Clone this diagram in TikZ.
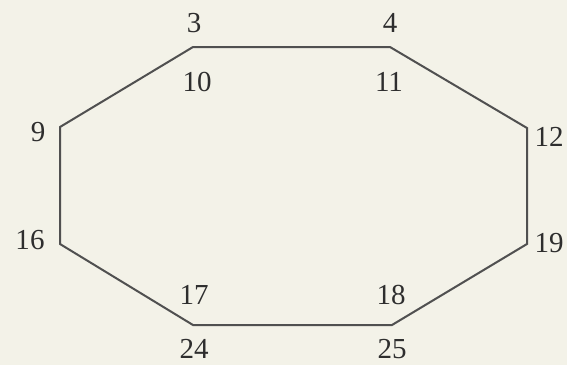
\documentclass[tikz,border=0pt]{standalone}
\usepackage{fontspec}
\setmainfont{Liberation Serif}
\usepackage{xcolor}
\definecolor{octPaper}{HTML}{F3F2E8}
\definecolor{octInk}{HTML}{505050}
\definecolor{octText}{HTML}{2E2E2E}
\tikzset{
  octedge/.style={draw=octInk,line width=2pt,line join=miter},
  octlabel/.style={inner sep=0pt,text=octText,font=\fontsize{29}{29}\selectfont}
}

\begin{document}
\begin{tikzpicture}[x=1pt,y=-1pt]
  \fill[octPaper] (0,0) rectangle (567,365);
  \useasboundingbox (0,0) rectangle (567,365);
  % corners of the outline
  \coordinate (v3) at (193,47);
  \coordinate (v4) at (390,47);
  \coordinate (v12) at (527,128);
  \coordinate (v19) at (527,244);
  \coordinate (v25) at (392,325);
  \coordinate (v24) at (193,325);
  \coordinate (v16) at (60,244);
  \coordinate (v9) at (60,127);
  \draw[octedge] (v3) -- (v4) -- (v12) -- (v19) -- (v25) -- (v24) -- (v16) -- (v9) -- cycle;
  % numbers
  \node[octlabel] (n3) at (194,23) {3};
  \node[octlabel] (n4) at (390,23) {4};
  \node[octlabel] (n10) at (197,82) {10};
  \node[octlabel] (n11) at (389,82) {11};
  \node[octlabel] (n9) at (38,132) {9};
  \node[octlabel] (n12) at (549,137) {12};
  \node[octlabel] (n16) at (30,240) {16};
  \node[octlabel] (n19) at (549,243) {19};
  \node[octlabel] (n17) at (194,295) {17};
  \node[octlabel] (n18) at (391,295) {18};
  \node[octlabel] (n24) at (194,349) {24};
  \node[octlabel] (n25) at (392,349) {25};
\end{tikzpicture}
\end{document}
